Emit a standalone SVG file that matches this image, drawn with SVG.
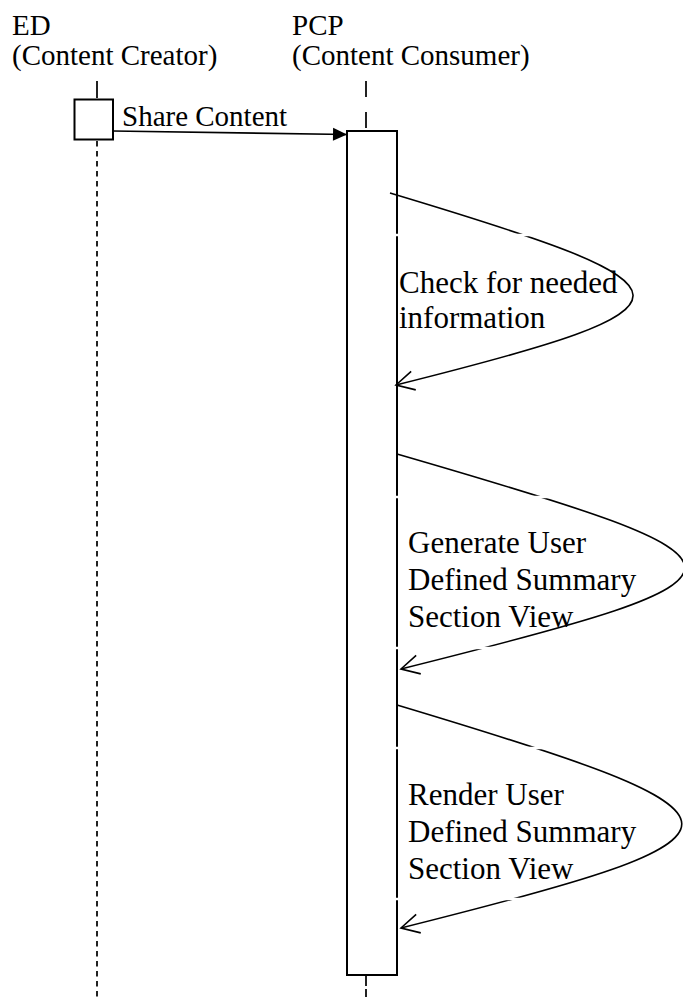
<svg xmlns="http://www.w3.org/2000/svg" width="683" height="997" viewBox="0 0 683 997">
<style>
  text { font-family: "Liberation Serif", "Times New Roman", serif; fill: #000; }
  .hdr { font-size: 29px; }
  .lbl { font-size: 31px; }
  .msg { font-size: 29px; }
  .life { stroke: #222; stroke-width: 2; fill: none; }
  .box { fill: #fff; stroke: #000; stroke-width: 2; }
  .conn { stroke: #000; stroke-width: 1.6; fill: none; }
  .gap { stroke: #fff; stroke-width: 2.5; }
</style>
<defs>
  <marker id="filled" markerUnits="userSpaceOnUse" markerWidth="16" markerHeight="16" viewBox="-15 -8 16 16" refX="0" refY="0" orient="auto">
    <path d="M-14,-6.5 L0,0 L-14,6.5 z" fill="#000"/>
  </marker>
  <marker id="open" markerUnits="userSpaceOnUse" markerWidth="24" markerHeight="24" viewBox="-21 -12 24 24" refX="0" refY="0" orient="auto">
    <path d="M-18,-9.5 L0,0 L-18,9.5" fill="none" stroke="#000" stroke-width="1.6"/>
  </marker>
</defs>

<g id="lifeline-ED">
  <text class="hdr" x="12" y="35">ED</text>
  <text class="hdr" x="12" y="65">(Content Creator)</text>
  <line class="life" x1="97" y1="81" x2="97" y2="98" />
  <line class="life" x1="97" y1="141" x2="97" y2="997" stroke-dasharray="5.5,4.5"/>
  <rect id="ED-activation" class="box" x="74.5" y="99.5" width="38.5" height="40"/>
</g>

<g id="lifeline-PCP">
  <text class="hdr" x="292" y="35">PCP</text>
  <text class="hdr" x="292" y="65">(Content Consumer)</text>
  <line class="life" x1="366" y1="81" x2="366" y2="130" stroke-dasharray="16,15"/>
  <line class="life" x1="366" y1="976" x2="366" y2="997" stroke-dasharray="10,3"/>
  <rect id="PCP-activation" class="box" x="347" y="131" width="50" height="844"/>
</g>

<g id="connectors">
  <path id="share-content" class="conn" d="M113,131 L347,134.5" marker-end="url(#filled)"/>
  <path id="self-check" class="conn" d="M390,193 C710,289 716,305 396,385" marker-end="url(#open)"/>
  <path id="self-generate" class="conn" d="M397,454 C778,564.5 782,573.75 401,669" marker-end="url(#open)"/>
  <path id="self-render" class="conn" d="M397,705 C774,818 778,833.75 401,928" marker-end="url(#open)"/>
  <g id="label-frames">
    <line class="gap" x1="393" y1="235" x2="600" y2="235"/>
    <line class="gap" x1="393" y1="497" x2="620" y2="497"/>
    <line class="gap" x1="393" y1="648" x2="560" y2="648"/>
    <line class="gap" x1="393" y1="748" x2="620" y2="748"/>
    <line class="gap" x1="393" y1="899" x2="560" y2="899"/>
  </g>
</g>

<g id="labels">
  <text class="msg" x="122" y="126">Share Content</text>
  <text class="lbl" x="399" y="293">Check for needed</text>
  <text class="lbl" x="399" y="328">information</text>
  <text class="lbl" x="408" y="553">Generate User</text>
  <text class="lbl" x="408" y="590">Defined Summary</text>
  <text class="lbl" x="408" y="627">Section View</text>
  <text class="lbl" x="408" y="805">Render User</text>
  <text class="lbl" x="408" y="842">Defined Summary</text>
  <text class="lbl" x="408" y="879">Section View</text>
</g>
</svg>
